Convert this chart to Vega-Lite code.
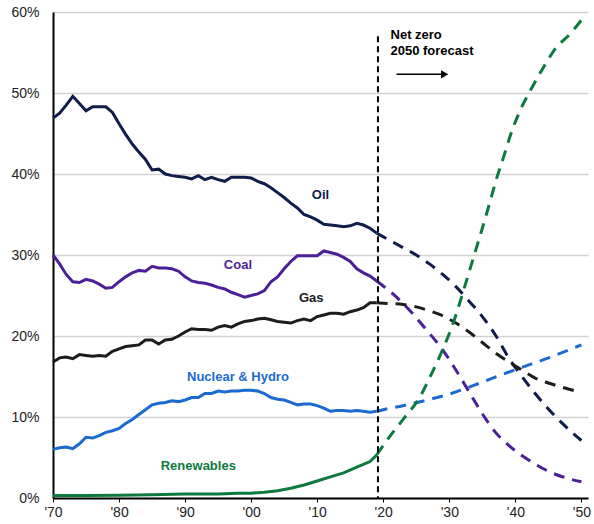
{
  "$schema": "https://vega.github.io/schema/vega-lite/v6.json",
  "width": 535,
  "height": 486,
  "autosize": {"type": "none"},
  "padding": {"left": 53, "top": 12, "right": 6, "bottom": 26},
  "config": {"view": {"stroke": null}, "font": "Liberation Sans"},
  "datasets": {
    "energy": [
      {"series":"Oil","phase":"hist","year":1970,"value":46.9},{"series":"Oil","phase":"hist","year":1971,"value":47.5},{"series":"Oil","phase":"hist","year":1972,"value":48.5},{"series":"Oil","phase":"hist","year":1973,"value":49.6},{"series":"Oil","phase":"hist","year":1974,"value":48.7},{"series":"Oil","phase":"hist","year":1975,"value":47.8},{"series":"Oil","phase":"hist","year":1976,"value":48.3},{"series":"Oil","phase":"hist","year":1977,"value":48.3},{"series":"Oil","phase":"hist","year":1978,"value":48.3},{"series":"Oil","phase":"hist","year":1979,"value":47.6},{"series":"Oil","phase":"hist","year":1980,"value":46.2},{"series":"Oil","phase":"hist","year":1981,"value":44.9},{"series":"Oil","phase":"hist","year":1982,"value":43.7},{"series":"Oil","phase":"hist","year":1983,"value":42.7},{"series":"Oil","phase":"hist","year":1984,"value":41.8},{"series":"Oil","phase":"hist","year":1985,"value":40.5},{"series":"Oil","phase":"hist","year":1986,"value":40.6},{"series":"Oil","phase":"hist","year":1987,"value":40.0},{"series":"Oil","phase":"hist","year":1988,"value":39.8},{"series":"Oil","phase":"hist","year":1989,"value":39.7},{"series":"Oil","phase":"hist","year":1990,"value":39.6},{"series":"Oil","phase":"hist","year":1991,"value":39.4},{"series":"Oil","phase":"hist","year":1992,"value":39.8},{"series":"Oil","phase":"hist","year":1993,"value":39.3},{"series":"Oil","phase":"hist","year":1994,"value":39.6},{"series":"Oil","phase":"hist","year":1995,"value":39.3},{"series":"Oil","phase":"hist","year":1996,"value":39.1},{"series":"Oil","phase":"hist","year":1997,"value":39.6},{"series":"Oil","phase":"hist","year":1998,"value":39.6},{"series":"Oil","phase":"hist","year":1999,"value":39.6},{"series":"Oil","phase":"hist","year":2000,"value":39.5},{"series":"Oil","phase":"hist","year":2001,"value":39.1},{"series":"Oil","phase":"hist","year":2002,"value":38.8},{"series":"Oil","phase":"hist","year":2003,"value":38.3},{"series":"Oil","phase":"hist","year":2004,"value":37.7},{"series":"Oil","phase":"hist","year":2005,"value":37.1},{"series":"Oil","phase":"hist","year":2006,"value":36.4},{"series":"Oil","phase":"hist","year":2007,"value":35.8},{"series":"Oil","phase":"hist","year":2008,"value":35.0},{"series":"Oil","phase":"hist","year":2009,"value":34.7},{"series":"Oil","phase":"hist","year":2010,"value":34.3},{"series":"Oil","phase":"hist","year":2011,"value":33.8},{"series":"Oil","phase":"hist","year":2012,"value":33.7},{"series":"Oil","phase":"hist","year":2013,"value":33.6},{"series":"Oil","phase":"hist","year":2014,"value":33.5},{"series":"Oil","phase":"hist","year":2015,"value":33.6},{"series":"Oil","phase":"hist","year":2016,"value":33.9},{"series":"Oil","phase":"hist","year":2017,"value":33.7},{"series":"Oil","phase":"hist","year":2018,"value":33.3},{"series":"Oil","phase":"hist","year":2019,"value":32.7},
      {"series":"Oil","phase":"fcst","year":2019,"value":32.7},{"series":"Oil","phase":"fcst","year":2021,"value":31.8},{"series":"Oil","phase":"fcst","year":2023,"value":30.9},{"series":"Oil","phase":"fcst","year":2025,"value":30.0},{"series":"Oil","phase":"fcst","year":2027,"value":28.9},{"series":"Oil","phase":"fcst","year":2029,"value":27.6},{"series":"Oil","phase":"fcst","year":2031,"value":26.1},{"series":"Oil","phase":"fcst","year":2033,"value":24.3},{"series":"Oil","phase":"fcst","year":2035,"value":22.4},{"series":"Oil","phase":"fcst","year":2037,"value":20.1},{"series":"Oil","phase":"fcst","year":2039,"value":17.3},{"series":"Oil","phase":"fcst","year":2041,"value":15.0},{"series":"Oil","phase":"fcst","year":2043,"value":12.9},{"series":"Oil","phase":"fcst","year":2045,"value":11.0},{"series":"Oil","phase":"fcst","year":2047,"value":9.3},{"series":"Oil","phase":"fcst","year":2049,"value":7.8},{"series":"Oil","phase":"fcst","year":2050,"value":7.1},
      {"series":"Coal","phase":"hist","year":1970,"value":30.0},{"series":"Coal","phase":"hist","year":1971,"value":28.9},{"series":"Coal","phase":"hist","year":1972,"value":27.6},{"series":"Coal","phase":"hist","year":1973,"value":26.7},{"series":"Coal","phase":"hist","year":1974,"value":26.6},{"series":"Coal","phase":"hist","year":1975,"value":27.0},{"series":"Coal","phase":"hist","year":1976,"value":26.8},{"series":"Coal","phase":"hist","year":1977,"value":26.4},{"series":"Coal","phase":"hist","year":1978,"value":25.9},{"series":"Coal","phase":"hist","year":1979,"value":26.0},{"series":"Coal","phase":"hist","year":1980,"value":26.7},{"series":"Coal","phase":"hist","year":1981,"value":27.3},{"series":"Coal","phase":"hist","year":1982,"value":27.8},{"series":"Coal","phase":"hist","year":1983,"value":28.1},{"series":"Coal","phase":"hist","year":1984,"value":28.0},{"series":"Coal","phase":"hist","year":1985,"value":28.6},{"series":"Coal","phase":"hist","year":1986,"value":28.4},{"series":"Coal","phase":"hist","year":1987,"value":28.4},{"series":"Coal","phase":"hist","year":1988,"value":28.3},{"series":"Coal","phase":"hist","year":1989,"value":28.0},{"series":"Coal","phase":"hist","year":1990,"value":27.3},{"series":"Coal","phase":"hist","year":1991,"value":26.8},{"series":"Coal","phase":"hist","year":1992,"value":26.6},{"series":"Coal","phase":"hist","year":1993,"value":26.5},{"series":"Coal","phase":"hist","year":1994,"value":26.3},{"series":"Coal","phase":"hist","year":1995,"value":26.0},{"series":"Coal","phase":"hist","year":1996,"value":25.8},{"series":"Coal","phase":"hist","year":1997,"value":25.4},{"series":"Coal","phase":"hist","year":1998,"value":25.1},{"series":"Coal","phase":"hist","year":1999,"value":24.8},{"series":"Coal","phase":"hist","year":2000,"value":25.0},{"series":"Coal","phase":"hist","year":2001,"value":25.2},{"series":"Coal","phase":"hist","year":2002,"value":25.6},{"series":"Coal","phase":"hist","year":2003,"value":26.7},{"series":"Coal","phase":"hist","year":2004,"value":27.3},{"series":"Coal","phase":"hist","year":2005,"value":28.3},{"series":"Coal","phase":"hist","year":2006,"value":29.2},{"series":"Coal","phase":"hist","year":2007,"value":29.9},{"series":"Coal","phase":"hist","year":2008,"value":29.9},{"series":"Coal","phase":"hist","year":2009,"value":29.9},{"series":"Coal","phase":"hist","year":2010,"value":29.9},{"series":"Coal","phase":"hist","year":2011,"value":30.5},{"series":"Coal","phase":"hist","year":2012,"value":30.3},{"series":"Coal","phase":"hist","year":2013,"value":30.1},{"series":"Coal","phase":"hist","year":2014,"value":29.7},{"series":"Coal","phase":"hist","year":2015,"value":29.2},{"series":"Coal","phase":"hist","year":2016,"value":28.3},{"series":"Coal","phase":"hist","year":2017,"value":27.8},{"series":"Coal","phase":"hist","year":2018,"value":27.4},{"series":"Coal","phase":"hist","year":2019,"value":26.8},
      {"series":"Coal","phase":"fcst","year":2019,"value":26.8},{"series":"Coal","phase":"fcst","year":2021.6,"value":25.1},{"series":"Coal","phase":"fcst","year":2024.3,"value":22.9},{"series":"Coal","phase":"fcst","year":2026.6,"value":20.7},{"series":"Coal","phase":"fcst","year":2029,"value":18.3},{"series":"Coal","phase":"fcst","year":2031,"value":15.8},{"series":"Coal","phase":"fcst","year":2033,"value":13.1},{"series":"Coal","phase":"fcst","year":2035,"value":10.4},{"series":"Coal","phase":"fcst","year":2037,"value":8.1},{"series":"Coal","phase":"fcst","year":2039,"value":6.5},{"series":"Coal","phase":"fcst","year":2042,"value":4.7},{"series":"Coal","phase":"fcst","year":2045,"value":3.3},{"series":"Coal","phase":"fcst","year":2048,"value":2.4},{"series":"Coal","phase":"fcst","year":2050,"value":2.0},
      {"series":"Gas","phase":"hist","year":1970,"value":16.8},{"series":"Gas","phase":"hist","year":1971,"value":17.3},{"series":"Gas","phase":"hist","year":1972,"value":17.4},{"series":"Gas","phase":"hist","year":1973,"value":17.2},{"series":"Gas","phase":"hist","year":1974,"value":17.7},{"series":"Gas","phase":"hist","year":1975,"value":17.6},{"series":"Gas","phase":"hist","year":1976,"value":17.5},{"series":"Gas","phase":"hist","year":1977,"value":17.6},{"series":"Gas","phase":"hist","year":1978,"value":17.5},{"series":"Gas","phase":"hist","year":1979,"value":18.1},{"series":"Gas","phase":"hist","year":1980,"value":18.4},{"series":"Gas","phase":"hist","year":1981,"value":18.7},{"series":"Gas","phase":"hist","year":1982,"value":18.8},{"series":"Gas","phase":"hist","year":1983,"value":18.9},{"series":"Gas","phase":"hist","year":1984,"value":19.5},{"series":"Gas","phase":"hist","year":1985,"value":19.5},{"series":"Gas","phase":"hist","year":1986,"value":19.0},{"series":"Gas","phase":"hist","year":1987,"value":19.5},{"series":"Gas","phase":"hist","year":1988,"value":19.6},{"series":"Gas","phase":"hist","year":1989,"value":20.0},{"series":"Gas","phase":"hist","year":1990,"value":20.5},{"series":"Gas","phase":"hist","year":1991,"value":20.9},{"series":"Gas","phase":"hist","year":1992,"value":20.8},{"series":"Gas","phase":"hist","year":1993,"value":20.8},{"series":"Gas","phase":"hist","year":1994,"value":20.7},{"series":"Gas","phase":"hist","year":1995,"value":21.1},{"series":"Gas","phase":"hist","year":1996,"value":21.3},{"series":"Gas","phase":"hist","year":1997,"value":21.1},{"series":"Gas","phase":"hist","year":1998,"value":21.5},{"series":"Gas","phase":"hist","year":1999,"value":21.8},{"series":"Gas","phase":"hist","year":2000,"value":21.9},{"series":"Gas","phase":"hist","year":2001,"value":22.1},{"series":"Gas","phase":"hist","year":2002,"value":22.2},{"series":"Gas","phase":"hist","year":2003,"value":22.0},{"series":"Gas","phase":"hist","year":2004,"value":21.8},{"series":"Gas","phase":"hist","year":2005,"value":21.7},{"series":"Gas","phase":"hist","year":2006,"value":21.6},{"series":"Gas","phase":"hist","year":2007,"value":21.9},{"series":"Gas","phase":"hist","year":2008,"value":22.1},{"series":"Gas","phase":"hist","year":2009,"value":21.9},{"series":"Gas","phase":"hist","year":2010,"value":22.4},{"series":"Gas","phase":"hist","year":2011,"value":22.6},{"series":"Gas","phase":"hist","year":2012,"value":22.8},{"series":"Gas","phase":"hist","year":2013,"value":22.8},{"series":"Gas","phase":"hist","year":2014,"value":22.7},{"series":"Gas","phase":"hist","year":2015,"value":23.0},{"series":"Gas","phase":"hist","year":2016,"value":23.2},{"series":"Gas","phase":"hist","year":2017,"value":23.5},{"series":"Gas","phase":"hist","year":2018,"value":24.1},{"series":"Gas","phase":"hist","year":2019,"value":24.1},
      {"series":"Gas","phase":"fcst","year":2019,"value":24.1},{"series":"Gas","phase":"fcst","year":2021,"value":24.0},{"series":"Gas","phase":"fcst","year":2023,"value":23.9},{"series":"Gas","phase":"fcst","year":2025,"value":23.6},{"series":"Gas","phase":"fcst","year":2027,"value":23.1},{"series":"Gas","phase":"fcst","year":2029,"value":22.5},{"series":"Gas","phase":"fcst","year":2031,"value":21.6},{"series":"Gas","phase":"fcst","year":2033,"value":20.5},{"series":"Gas","phase":"fcst","year":2035,"value":19.2},{"series":"Gas","phase":"fcst","year":2037,"value":17.9},{"series":"Gas","phase":"fcst","year":2039,"value":16.8},{"series":"Gas","phase":"fcst","year":2041,"value":15.8},{"series":"Gas","phase":"fcst","year":2043,"value":14.8},{"series":"Gas","phase":"fcst","year":2045,"value":14.2},{"series":"Gas","phase":"fcst","year":2047,"value":13.7},{"series":"Gas","phase":"fcst","year":2050,"value":13.0},
      {"series":"Nuclear & Hydro","phase":"hist","year":1970,"value":6.0},{"series":"Nuclear & Hydro","phase":"hist","year":1971,"value":6.2},{"series":"Nuclear & Hydro","phase":"hist","year":1972,"value":6.3},{"series":"Nuclear & Hydro","phase":"hist","year":1973,"value":6.1},{"series":"Nuclear & Hydro","phase":"hist","year":1974,"value":6.7},{"series":"Nuclear & Hydro","phase":"hist","year":1975,"value":7.5},{"series":"Nuclear & Hydro","phase":"hist","year":1976,"value":7.4},{"series":"Nuclear & Hydro","phase":"hist","year":1977,"value":7.7},{"series":"Nuclear & Hydro","phase":"hist","year":1978,"value":8.1},{"series":"Nuclear & Hydro","phase":"hist","year":1979,"value":8.3},{"series":"Nuclear & Hydro","phase":"hist","year":1980,"value":8.6},{"series":"Nuclear & Hydro","phase":"hist","year":1981,"value":9.2},{"series":"Nuclear & Hydro","phase":"hist","year":1982,"value":9.7},{"series":"Nuclear & Hydro","phase":"hist","year":1983,"value":10.3},{"series":"Nuclear & Hydro","phase":"hist","year":1984,"value":10.9},{"series":"Nuclear & Hydro","phase":"hist","year":1985,"value":11.5},{"series":"Nuclear & Hydro","phase":"hist","year":1986,"value":11.7},{"series":"Nuclear & Hydro","phase":"hist","year":1987,"value":11.8},{"series":"Nuclear & Hydro","phase":"hist","year":1988,"value":12.0},{"series":"Nuclear & Hydro","phase":"hist","year":1989,"value":11.9},{"series":"Nuclear & Hydro","phase":"hist","year":1990,"value":12.1},{"series":"Nuclear & Hydro","phase":"hist","year":1991,"value":12.4},{"series":"Nuclear & Hydro","phase":"hist","year":1992,"value":12.4},{"series":"Nuclear & Hydro","phase":"hist","year":1993,"value":12.9},{"series":"Nuclear & Hydro","phase":"hist","year":1994,"value":12.9},{"series":"Nuclear & Hydro","phase":"hist","year":1995,"value":13.2},{"series":"Nuclear & Hydro","phase":"hist","year":1996,"value":13.1},{"series":"Nuclear & Hydro","phase":"hist","year":1997,"value":13.2},{"series":"Nuclear & Hydro","phase":"hist","year":1998,"value":13.2},{"series":"Nuclear & Hydro","phase":"hist","year":1999,"value":13.3},{"series":"Nuclear & Hydro","phase":"hist","year":2000,"value":13.3},{"series":"Nuclear & Hydro","phase":"hist","year":2001,"value":13.2},{"series":"Nuclear & Hydro","phase":"hist","year":2002,"value":12.9},{"series":"Nuclear & Hydro","phase":"hist","year":2003,"value":12.4},{"series":"Nuclear & Hydro","phase":"hist","year":2004,"value":12.2},{"series":"Nuclear & Hydro","phase":"hist","year":2005,"value":12.1},{"series":"Nuclear & Hydro","phase":"hist","year":2006,"value":11.8},{"series":"Nuclear & Hydro","phase":"hist","year":2007,"value":11.5},{"series":"Nuclear & Hydro","phase":"hist","year":2008,"value":11.6},{"series":"Nuclear & Hydro","phase":"hist","year":2009,"value":11.6},{"series":"Nuclear & Hydro","phase":"hist","year":2010,"value":11.4},{"series":"Nuclear & Hydro","phase":"hist","year":2011,"value":11.1},{"series":"Nuclear & Hydro","phase":"hist","year":2012,"value":10.7},{"series":"Nuclear & Hydro","phase":"hist","year":2013,"value":10.8},{"series":"Nuclear & Hydro","phase":"hist","year":2014,"value":10.8},{"series":"Nuclear & Hydro","phase":"hist","year":2015,"value":10.7},{"series":"Nuclear & Hydro","phase":"hist","year":2016,"value":10.8},{"series":"Nuclear & Hydro","phase":"hist","year":2017,"value":10.7},{"series":"Nuclear & Hydro","phase":"hist","year":2018,"value":10.6},{"series":"Nuclear & Hydro","phase":"hist","year":2019,"value":10.7},
      {"series":"Nuclear & Hydro","phase":"fcst","year":2019,"value":10.7},{"series":"Nuclear & Hydro","phase":"fcst","year":2020,"value":10.9},{"series":"Nuclear & Hydro","phase":"fcst","year":2023,"value":11.4},{"series":"Nuclear & Hydro","phase":"fcst","year":2026.7,"value":12.1},{"series":"Nuclear & Hydro","phase":"fcst","year":2030.3,"value":12.9},{"series":"Nuclear & Hydro","phase":"fcst","year":2033.7,"value":13.9},{"series":"Nuclear & Hydro","phase":"fcst","year":2037.2,"value":15.0},{"series":"Nuclear & Hydro","phase":"fcst","year":2040.9,"value":16.1},{"series":"Nuclear & Hydro","phase":"fcst","year":2044.7,"value":17.2},{"series":"Nuclear & Hydro","phase":"fcst","year":2048.2,"value":18.3},{"series":"Nuclear & Hydro","phase":"fcst","year":2050,"value":18.9},
      {"series":"Renewables","phase":"hist","year":1970,"value":0.3},{"series":"Renewables","phase":"hist","year":1975,"value":0.3},{"series":"Renewables","phase":"hist","year":1980,"value":0.35},{"series":"Renewables","phase":"hist","year":1985,"value":0.4},{"series":"Renewables","phase":"hist","year":1990,"value":0.5},{"series":"Renewables","phase":"hist","year":1995,"value":0.5},{"series":"Renewables","phase":"hist","year":1998,"value":0.6},{"series":"Renewables","phase":"hist","year":2000,"value":0.6},{"series":"Renewables","phase":"hist","year":2002,"value":0.7},{"series":"Renewables","phase":"hist","year":2004,"value":0.9},{"series":"Renewables","phase":"hist","year":2006,"value":1.2},{"series":"Renewables","phase":"hist","year":2008,"value":1.6},{"series":"Renewables","phase":"hist","year":2010,"value":2.1},{"series":"Renewables","phase":"hist","year":2012,"value":2.6},{"series":"Renewables","phase":"hist","year":2014,"value":3.1},{"series":"Renewables","phase":"hist","year":2016,"value":3.8},{"series":"Renewables","phase":"hist","year":2018,"value":4.5},{"series":"Renewables","phase":"hist","year":2019,"value":5.3},
      {"series":"Renewables","phase":"fcst","year":2019,"value":5.3},{"series":"Renewables","phase":"fcst","year":2020.8,"value":7.4},{"series":"Renewables","phase":"fcst","year":2023.1,"value":9.8},{"series":"Renewables","phase":"fcst","year":2025.5,"value":12.4},{"series":"Renewables","phase":"fcst","year":2027,"value":14.8},{"series":"Renewables","phase":"fcst","year":2028.5,"value":17.4},{"series":"Renewables","phase":"fcst","year":2030,"value":20.3},{"series":"Renewables","phase":"fcst","year":2031,"value":22.6},{"series":"Renewables","phase":"fcst","year":2032,"value":25.2},{"series":"Renewables","phase":"fcst","year":2033,"value":27.9},{"series":"Renewables","phase":"fcst","year":2034,"value":30.6},{"series":"Renewables","phase":"fcst","year":2035,"value":33.3},{"series":"Renewables","phase":"fcst","year":2036,"value":36.1},{"series":"Renewables","phase":"fcst","year":2037,"value":39.0},{"series":"Renewables","phase":"fcst","year":2038.3,"value":42.3},{"series":"Renewables","phase":"fcst","year":2039.3,"value":44.9},{"series":"Renewables","phase":"fcst","year":2040.7,"value":47.8},{"series":"Renewables","phase":"fcst","year":2042.2,"value":50.2},{"series":"Renewables","phase":"fcst","year":2044,"value":52.8},{"series":"Renewables","phase":"fcst","year":2045.9,"value":55.3},{"series":"Renewables","phase":"fcst","year":2048.4,"value":57.4},{"series":"Renewables","phase":"fcst","year":2050,"value":59.0}
    ],
    "labels": [
      {"series":"Oil","text":"Oil","year":2010.5,"value":37.4},
      {"series":"Coal","text":"Coal","year":1998.0,"value":28.8},
      {"series":"Gas","text":"Gas","year":2009.1,"value":24.7},
      {"series":"Nuclear & Hydro","text":"Nuclear & Hydro","year":1998.0,"value":14.9},
      {"series":"Renewables","text":"Renewables","year":1992.0,"value":4.0}
    ]
  },
  "encoding": {
    "x": {
      "field": "year",
      "type": "quantitative",
      "scale": {"domain": [1970, 2051], "nice": false, "zero": false},
      "axis": {
        "title": null,
        "values": [1970, 1980, 1990, 2000, 2010, 2020, 2030, 2040, 2050],
        "labelExpr": "\"'\" + slice(toString(datum.value), 2)",
        "grid": false,
        "domainColor": "#000000",
        "domainWidth": 2,
        "tickColor": "#000000",
        "tickSize": 4,
        "labelPadding": 3,
        "labelFontSize": 14,
        "labelColor": "#222222",
        "labelFlush": false
      }
    },
    "y": {
      "field": "value",
      "type": "quantitative",
      "scale": {"domain": [0, 60], "nice": false},
      "axis": {
        "title": null,
        "values": [0, 10, 20, 30, 40, 50, 60],
        "labelExpr": "datum.value + '%'",
        "grid": true,
        "gridColor": "#d2d2d2",
        "gridWidth": 1.5,
        "domainColor": "#000000",
        "domainWidth": 2,
        "ticks": false,
        "labelPadding": 14,
        "labelFontSize": 14,
        "labelColor": "#222222"
      }
    }
  },
  "layer": [
    {
      "data": {"name": "energy"},
      "transform": [{"filter": "datum.phase === 'hist'"}],
      "mark": {"type": "line", "strokeWidth": 3, "interpolate": "linear"},
      "encoding": {
        "color": {
          "field": "series",
          "type": "nominal",
          "scale": {
            "domain": ["Oil", "Coal", "Gas", "Nuclear & Hydro", "Renewables"],
            "range": ["#101c4a", "#4a1f98", "#1c1c1c", "#1b6ad0", "#0c7a3e"]
          },
          "legend": null
        }
      }
    },
    {
      "data": {"name": "energy"},
      "transform": [{"filter": "datum.phase === 'fcst'"}],
      "mark": {"type": "line", "strokeWidth": 3, "strokeDash": [11, 8], "interpolate": "monotone"},
      "encoding": {
        "color": {"field": "series", "type": "nominal", "legend": null}
      }
    },
    {
      "data": {"values": [{"year": 2019.2, "top": 57.0, "bottom": 0}]},
      "mark": {"type": "rule", "color": "#000000", "strokeWidth": 2, "strokeDash": [6, 4]},
      "encoding": {
        "y": {"field": "top", "type": "quantitative"},
        "y2": {"field": "bottom"}
      }
    },
    {
      "data": {"values": [{"year": 2022.0, "end": 2028.8, "value": 52.3}]},
      "mark": {"type": "rule", "color": "#000000", "strokeWidth": 1.5},
      "encoding": {
        "x2": {"field": "end"}
      }
    },
    {
      "data": {"values": [{"year": 2029.3, "value": 52.3}]},
      "mark": {"type": "point", "shape": "triangle-right", "filled": true, "color": "#000000", "opacity": 1, "size": 70},
      "encoding": {}
    },
    {
      "data": {"values": [{"year": 2021.1, "value": 57.2, "text": "Net zero"}, {"year": 2021.1, "value": 55.2, "text": "2050 forecast"}]},
      "mark": {"type": "text", "align": "left", "baseline": "middle", "fontSize": 13, "fontWeight": "bold", "color": "#000000"},
      "encoding": {
        "text": {"field": "text"}
      }
    },
    {
      "data": {"name": "labels"},
      "mark": {"type": "text", "align": "center", "baseline": "middle", "fontSize": 13, "fontWeight": "bold"},
      "encoding": {
        "text": {"field": "text"},
        "color": {"field": "series", "type": "nominal", "legend": null}
      }
    }
  ]
}
